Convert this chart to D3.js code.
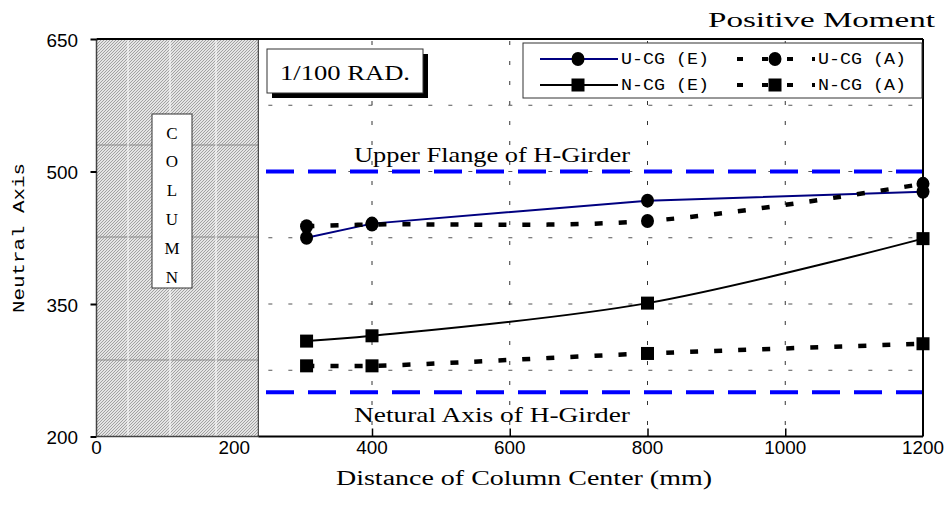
<!DOCTYPE html>
<html><head><meta charset="utf-8">
<script src="https://cdn.jsdelivr.net/npm/d3@7/dist/d3.min.js"></script>
<style>body{margin:0;background:#fff}svg{display:block}</style>
</head><body>
<svg id="c" width="951" height="521"></svg>
<script>
// ---- data ----
const xTicks = [0, 200, 400, 600, 800, 1000, 1200];
const yTicks = [200, 350, 500, 650];
const yGrid = [275, 350, 425, 500, 575];
const xGrid = [400, 600, 800, 1000];
const xVals = [305, 400, 800, 1200];
const ucgE = [425, 441, 467, 477];
const ucgA = [438, 440, 444, 486];
const ncgE = [308, 314, 351, 424];
const ncgA = [280, 280, 294, 305];
const refLines = [500, 250];
const refLabels = ["Upper Flange of H-Girder", "Netural Axis of H-Girder"];
const columnWidth = 235;
const columnLetters = ["C", "O", "L", "U", "M", "N"];
const seriesNames = ["U-CG (E)", "N-CG (E)", "U-CG (A)", "N-CG (A)"];

const svg = d3.select("#c");
const L = 96.5, R = 923, T = 39, B = 436.5;
const x = d3.scaleLinear().domain([0, 1200]).range([L, R]);
const y = d3.scaleLinear().domain([200, 650]).range([B, T]);

function txt(g, px, py, s, size, fam, anchor, width) {
  const t = g.append("text").attr("x", px).attr("y", py).text(s)
    .attr("font-size", size).attr("font-family", fam)
    .attr("text-anchor", anchor || "start").attr("dominant-baseline", "central")
    .attr("fill", "#000");
  if (width) t.attr("textLength", width).attr("lengthAdjust", "spacingAndGlyphs");
  return t;
}

// hatch pattern
const defs = svg.append("defs");
const pat = defs.append("pattern").attr("id", "hatch").attr("patternUnits", "userSpaceOnUse")
  .attr("width", 3).attr("height", 3);
pat.append("rect").attr("width", 3).attr("height", 3).attr("fill", "#e4e4e4");
pat.append("path").attr("d", "M-1,1 L1,-1 M0,3 L3,0 M2,4 L4,2").attr("stroke", "#9a9a9a").attr("stroke-width", 0.9);

// column region
const colX0 = x(0), colX1 = x(columnWidth);
svg.append("rect").attr("x", colX0).attr("y", T).attr("width", colX1 - colX0).attr("height", B - T)
  .attr("fill", "url(#hatch)");
[145, 237, 360].forEach(py => svg.append("line").attr("x1", colX0).attr("x2", colX1)
  .attr("y1", py).attr("y2", py).attr("stroke", "#8a8a8a").attr("stroke-width", 1));
[128, 170, 216].forEach(px => svg.append("line").attr("x1", px).attr("x2", px)
  .attr("y1", T).attr("y2", B).attr("stroke", "#fff").attr("stroke-width", 1));
svg.append("line").attr("x1", colX1).attr("x2", colX1).attr("y1", T).attr("y2", B)
  .attr("stroke", "#444").attr("stroke-width", 1.2);
svg.append("line").attr("x1", colX0).attr("x2", colX0).attr("y1", T).attr("y2", B)
  .attr("stroke", "#444").attr("stroke-width", 1.5);

// column label box
svg.append("rect").attr("x", 152).attr("y", 114).attr("width", 40).attr("height", 174)
  .attr("fill", "#fff").attr("stroke", "#333").attr("stroke-width", 1);
columnLetters.forEach((ch, i) => txt(svg, 172, 133 + i * 28.8, ch, 17, "Liberation Serif", "middle"));

// gridlines
svg.append("g").selectAll("line").data(yGrid).join("line")
  .attr("x1", colX1 + 10).attr("x2", R).attr("y1", d => y(d)).attr("y2", d => y(d))
  .attr("stroke", "#555").attr("stroke-width", 1).attr("stroke-dasharray", "4,16");
svg.append("g").selectAll("line").data(xGrid).join("line")
  .attr("x1", d => x(d)).attr("x2", d => x(d)).attr("y1", T).attr("y2", B)
  .attr("stroke", "#333").attr("stroke-width", 1).attr("stroke-dasharray", "4,16").attr("stroke-dashoffset", -2);

// reference lines
svg.append("g").selectAll("line").data(refLines).join("line")
  .attr("x1", 266).attr("x2", R).attr("y1", d => y(d)).attr("y2", d => y(d))
  .attr("stroke", "#0000ff").attr("stroke-width", 4).attr("stroke-dasharray", "28,14");
txt(svg, 354, 155, refLabels[0], 21, "Liberation Serif", "start", 276);
txt(svg, 354, 415, refLabels[1], 21, "Liberation Serif", "start", 276);

// frame
svg.append("line").attr("x1", L).attr("x2", R).attr("y1", T).attr("y2", T).attr("stroke", "#000").attr("stroke-width", 2);
svg.append("line").attr("x1", colX1).attr("x2", R).attr("y1", B).attr("y2", B).attr("stroke", "#000").attr("stroke-width", 2);
svg.append("line").attr("x1", colX0).attr("x2", colX1).attr("y1", B).attr("y2", B).attr("stroke", "#444").attr("stroke-width", 1.5);
svg.append("line").attr("x1", R).attr("x2", R).attr("y1", T).attr("y2", B).attr("stroke", "#000").attr("stroke-width", 2);

// axes ticks
const ya = svg.append("g").attr("transform", `translate(${L},0)`)
  .call(d3.axisLeft(y).tickValues(yTicks).tickSize(6).tickFormat(""));
ya.select(".domain").remove();
ya.selectAll("line").attr("stroke-width", 2);
const xa = svg.append("g").attr("transform", `translate(0,${B})`)
  .call(d3.axisTop(x).tickValues(xGrid).tickSize(8).tickFormat(""));
xa.select(".domain").remove();
xa.selectAll("line").attr("stroke-width", 1.5);

yTicks.forEach(v => txt(svg, 78, y(v) + 1, String(v), 19, "Liberation Sans", "end", String(v).length * 10.5));
xTicks.forEach(v => txt(svg, x(v), 447, String(v), 19, "Liberation Sans", "middle", String(v).length * 10.5));

// axis titles
txt(svg, 336, 478, "Distance of Column Center (mm)", 20, "Liberation Serif", "start", 376);
txt(svg, 0, 0, "Neutral Axis", 17, "Liberation Mono", "middle", 150)
  .attr("transform", "translate(19,238) rotate(-90)");
txt(svg, 935, 20, "Positive Moment", 20, "Liberation Serif", "end", 227);

// 1/100 RAD box
svg.append("rect").attr("x", 272).attr("y", 54).attr("width", 156).attr("height", 44).attr("fill", "#000");
svg.append("rect").attr("x", 267).attr("y", 49).attr("width", 156).attr("height", 44)
  .attr("fill", "#fff").attr("stroke", "#333").attr("stroke-width", 1);
txt(svg, 345, 72, "1/100 RAD.", 22, "Liberation Serif", "middle", 130);

// series
const series = [
  {name: seriesNames[0], vals: ucgE, color: "#000080", dash: null, width: 2, marker: "circle", curve: d3.curveLinear},
  {name: seriesNames[1], vals: ncgE, color: "#000", dash: null, width: 2, marker: "square", curve: d3.curveCatmullRom},
  {name: seriesNames[2], vals: ucgA, color: "#000", dash: "8,16", width: 4.5, marker: "circle", curve: d3.curveCatmullRom},
  {name: seriesNames[3], vals: ncgA, color: "#000", dash: "8,16", width: 4.5, marker: "square", curve: d3.curveCatmullRom}
];
function marker(g, kind, cx, cy) {
  if (kind === "circle") g.append("ellipse").attr("cx", cx).attr("cy", cy).attr("rx", 6.5).attr("ry", 7).attr("fill", "#000");
  else g.append("rect").attr("x", cx - 6.5).attr("y", cy - 6.5).attr("width", 13).attr("height", 13).attr("fill", "#000");
}
const gS = svg.append("g");
series.forEach(s => {
  const pts = xVals.map((xv, i) => [x(xv), y(s.vals[i])]);
  const p = gS.append("path").attr("d", d3.line().curve(s.curve)(pts))
    .attr("fill", "none").attr("stroke", s.color).attr("stroke-width", s.width);
  if (s.dash) p.attr("stroke-dasharray", s.dash);
});
series.forEach(s => xVals.forEach((xv, i) => marker(gS, s.marker, x(xv), y(s.vals[i]))));

// legend
const lg = svg.append("g");
lg.append("rect").attr("x", 523).attr("y", 43).attr("width", 399).attr("height", 55)
  .attr("fill", "#fff").attr("stroke", "#333").attr("stroke-width", 1);
const legPos = [[540, 59], [540, 85], [737, 59], [737, 85]];
series.forEach((s, i) => {
  const [lx, ly] = legPos[i];
  const ln = lg.append("line").attr("x1", lx).attr("x2", lx + 78).attr("y1", ly).attr("y2", ly)
    .attr("stroke", s.color).attr("stroke-width", s.dash ? 4 : 2);
  if (s.dash) ln.attr("stroke-dasharray", "6,19");
  marker(lg, s.marker, lx + 38, ly);
  txt(lg, lx + 81, ly + 1, s.name, 16, "Liberation Mono", "start", 88);
});
</script>
</body></html>
